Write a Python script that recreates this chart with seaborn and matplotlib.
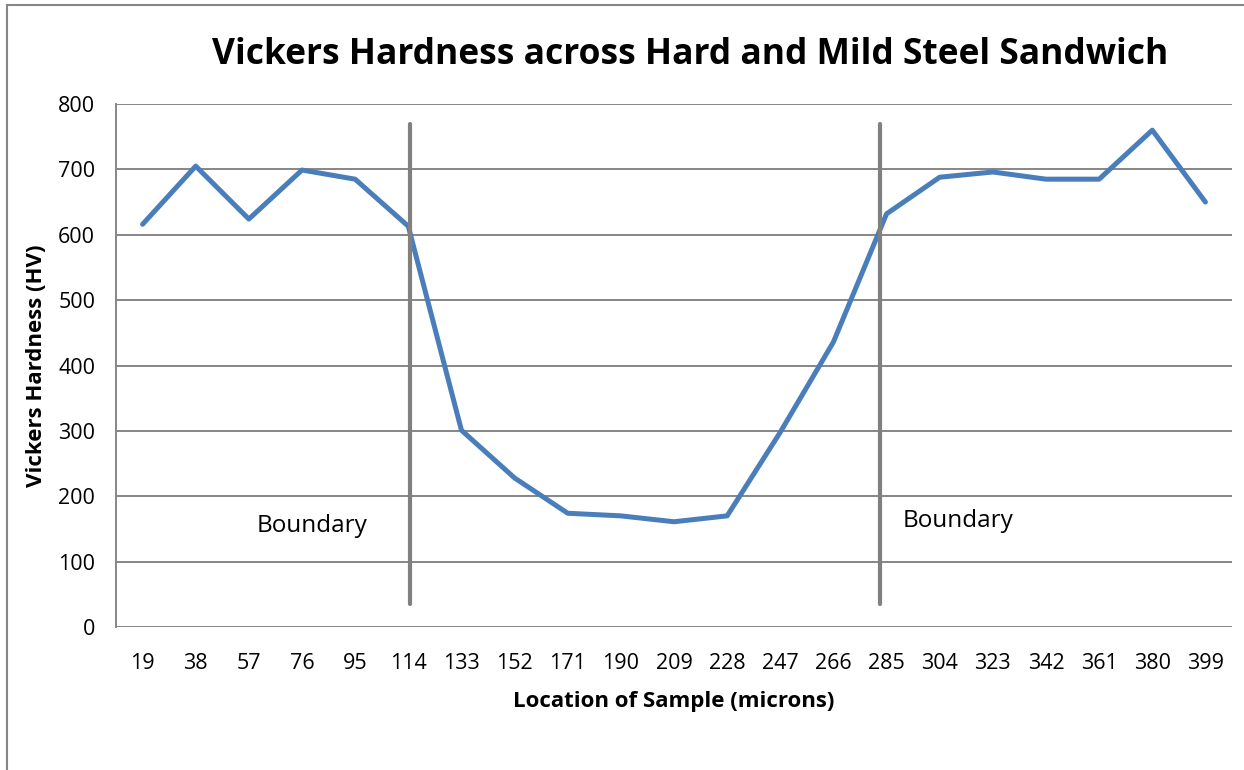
import numpy as np
import pandas as pd
import matplotlib.pyplot as plt
from matplotlib.patches import Rectangle
import seaborn as sns

location = ['19', '38', '57', '76', '95', '114', '133', '152', '171', '190', '209',
            '228', '247', '266', '285', '304', '323', '342', '361', '380', '399']
hardness = [616, 705, 624, 699, 685, 613, 301, 228, 174, 170, 161,
            170, 298, 436, 632, 688, 696, 685, 685, 760, 650]
boundary_label = 'Boundary'

df = pd.DataFrame({'pos': np.arange(len(location)), 'hv': hardness})

sns.set_theme(style='white')
plt.rcParams['font.family'] = ['Open Sans', 'DejaVu Sans']
plt.rcParams['text.color'] = 'black'
plt.rcParams['axes.labelcolor'] = 'black'
plt.rcParams['xtick.color'] = 'black'
plt.rcParams['ytick.color'] = 'black'

fig = plt.figure(figsize=(12.44, 7.7), dpi=100)
ax = fig.add_axes([116 / 1244, 1 - 627 / 770, 1116 / 1244, 523 / 770])

# outer chart border
fig.patches.append(Rectangle((7 / 1244, -0.05), 1.2, 1 - 5 / 770 + 0.05,
                             transform=fig.transFigure, fill=False,
                             edgecolor='#868686', linewidth=1.5, zorder=0))

sns.lineplot(data=df, x='pos', y='hv', ax=ax, color='#4A7EBB', linewidth=3.6, zorder=3)

# boundary markers
for bx, tx, ty in [(5.03, 2.15, 155), (13.88, 14.31, 162)]:
    ax.plot([bx, bx], [35, 769], color='#808080', linewidth=3, zorder=4)
    ax.text(tx, ty, boundary_label, fontsize=17.5, ha='left', va='center', color='black')

ax.set_xlim(-0.5, len(location) - 0.5)
ax.set_ylim(0, 800)
ax.set_yticks(range(0, 801, 100))
ax.set_xticks(df['pos'])
ax.set_xticklabels(location)
ax.yaxis.grid(True, color='#868686', linewidth=1.4)
ax.xaxis.grid(False)
for s in ['top', 'right', 'bottom']:
    ax.spines[s].set_visible(False)
ax.spines['left'].set_color('#868686')
ax.spines['left'].set_linewidth(1.4)
ax.tick_params(axis='y', length=6, width=1.4, color='#868686', labelcolor='black',
               labelsize=15.5, pad=9)
ax.tick_params(axis='x', length=0, labelsize=15.5, labelcolor='black', pad=19)

ax.set_xlabel('Location of Sample (microns)', fontsize=16, fontweight='bold', labelpad=12)
ax.set_ylabel('Vickers Hardness (HV)', fontsize=16, fontweight='bold', labelpad=8)
fig.text(690 / 1244, 1 - 55 / 770, 'Vickers Hardness across Hard and Mild Steel Sandwich',
         fontsize=25.5, fontweight='bold', ha='center', va='center')

fig.savefig('out.png', dpi=100)
